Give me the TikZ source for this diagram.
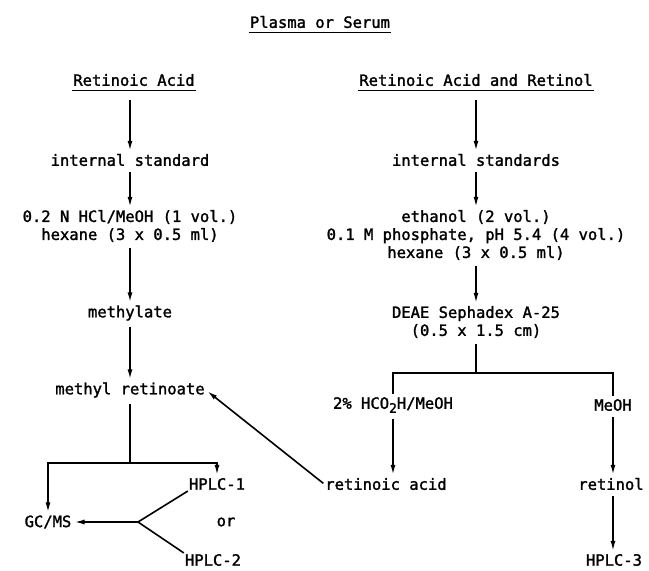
\documentclass[tikz,border=0pt]{standalone}
\usepackage{fontspec}
\setmainfont[FakeBold=1.6]{DejaVu Sans Mono}
\usetikzlibrary{arrows.meta}

\tikzset{
  lbl/.style={font=\fontsize{15.5}{18}\selectfont, inner sep=1pt, align=center},
  flow/.style={line width=1.6pt, -{Latex[length=10pt,width=5pt]}, shorten <=5pt, shorten >=2pt},
  plain/.style={line width=1.6pt},
  uline/.style={line width=1.3pt}
}

\begin{document}
\begin{tikzpicture}[x=1pt,y=-1pt]
\useasboundingbox (0,0) rectangle (649,571);

% draw headings
\node[lbl] (serum) at (320,22) {Plasma or Serum};
\draw[uline] ([yshift=-5pt]serum.base west) -- ([yshift=-5pt]serum.base east);

\node[lbl] (hdrA) at (134,80) {Retinoic Acid};
\draw[uline] ([yshift=-5pt]hdrA.base west) -- ([yshift=-5pt]hdrA.base east);

\node[lbl] (hdrB) at (476,80) {Retinoic Acid and Retinol};
\draw[uline] ([yshift=-5pt]hdrB.base west) -- ([yshift=-5pt]hdrB.base east);

% left column: retinoic acid only
\node[lbl] (intA) at (130,160) {internal standard};
\node[lbl] (hclA) at (130,226) {0.2 N HCl/MeOH (1 vol.)\\hexane (3 x 0.5 ml)};
\node[lbl] (methA) at (130,313) {methylate};
\node[lbl] (mretA) at (130,390) {methyl retinoate};
\coordinate (split) at (130,463);

\node[lbl] (gcms) at (48,522) {GC/MS};
\node[lbl] (hplc1) at (217,484) {HPLC-1};
\node[lbl] (orA) at (226,522) {or};
\node[lbl] (hplc2) at (213,560) {HPLC-2};
\coordinate (fork) at (138,522);

% right column: retinoic acid and retinol
\node[lbl] (intB) at (476,160) {internal standards};
\node[lbl] (ethB) at (476,235) {ethanol (2 vol.)\\0.1 M phosphate, pH 5.4 (4 vol.)\\hexane (3 x 0.5 ml)};
\node[lbl] (deae) at (476,322) {DEAE Sephadex A-25\\(0.5 x 1.5 cm)};
\coordinate (splitB) at (476,373);

\node[lbl] (form) at (393,405) {2\% HCO\raisebox{-4pt}{\fontsize{13}{13}\selectfont 2}H/MeOH};
\node[lbl] (meoh) at (613,405) {MeOH};
\node[lbl] (raB) at (386,484) {retinoic acid};
\node[lbl] (rol) at (611,484) {retinol};
\node[lbl] (hplc3) at (614,560) {HPLC-3};

% draw arrows
\draw[flow, shorten <=13pt] (hdrA.south -| intA.north) -- (intA.north);
\draw[flow] (intA.south) -- (hclA.north);
\draw[flow] (hclA.south) -- (methA.north);
\draw[flow] (methA.south) -- (mretA.north);
\draw[plain, shorten <=5pt] (mretA.south) -- (split);
\draw[flow, shorten <=0pt] (split) -| (gcms.north);
\draw[flow, shorten <=0pt] (split) -| (hplc1.north);
\draw[plain] (hplc1.south west) -- (fork) -- (hplc2.north west);
\draw[flow, shorten <=0pt] (fork) -- (gcms.east);

\draw[flow, shorten <=13pt] (hdrB.south -| intB.north) -- (intB.north);
\draw[flow] (intB.south) -- (ethB.north);
\draw[flow] (ethB.south) -- (deae.north);
\draw[plain, shorten <=5pt] (deae.south) -- (splitB);
\draw[plain, shorten >=2pt] (splitB) -| (form.north);
\draw[plain, shorten >=2pt] (splitB) -| (meoh.north);
\draw[flow] (form.south) -- (form.south |- raB.north);
\draw[flow] (meoh.south) -- (meoh.south |- rol.north);
\draw[flow] (meoh.south |- rol.south) -- (meoh.south |- hplc3.north);
\draw[flow, shorten <=1pt] (raB.west) -- (mretA.east);

\end{tikzpicture}
\end{document}
